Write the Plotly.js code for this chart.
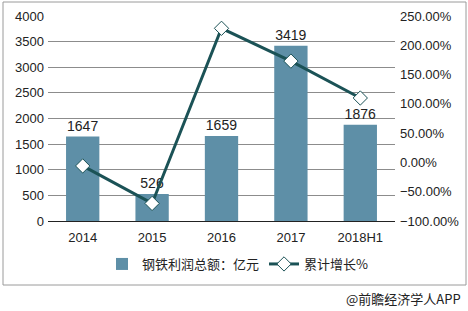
<!DOCTYPE html>
<html>
<head>
<meta charset="utf-8">
<script src="https://cdn.plot.ly/plotly-3.0.1.min.js"></script>
<style>html,body{margin:0;padding:0;background:#fff;}#chart{width:468px;height:311px;}</style>
</head>
<body>
<div id="chart"></div>
<script>
var categories = ['2014', '2015', '2016', '2017', '2018H1'];
var profit = [1647, 526, 1659, 3419, 1876];
var growth = [-0.06, -0.70, 2.29, 1.73, 1.10];
var barName = '钢铁利润总额：亿元';
var lineName = '累计增长%';

var FONT = 'Liberation Sans, Arial, Noto Sans CJK SC, sans-serif';
var L = 48, R = 395, T = 16, B = 221;
function px(x){ return (x - L) / (R - L); }
function py(y){ return (B - y) / (B - T); }

var traces = [
  {
    type: 'bar', x: categories, y: profit, name: barName,
    marker: {color: '#5e8fa7'},
    text: profit.map(String), textposition: 'outside', cliponaxis: false,
    textfont: {size: 14, color: '#222', family: FONT},
    hoverinfo: 'none'
  },
  {
    type: 'scatter', mode: 'lines+markers', x: categories, y: growth, name: lineName,
    yaxis: 'y2',
    line: {color: '#1b5256', width: 3},
    marker: {symbol: 'diamond', size: 11, color: '#ffffff', line: {color: '#1b5256', width: 1}},
    cliponaxis: false,
    hoverinfo: 'none'
  }
];

var layout = {
  width: 468, height: 311,
  margin: {l: L, r: 468 - R, t: T, b: 311 - B},
  paper_bgcolor: '#ffffff', plot_bgcolor: '#ffffff',
  font: {family: FONT, size: 13, color: '#222'},
  bargap: 0.52,
  showlegend: true,
  xaxis: {
    type: 'category', showgrid: false, zeroline: false,
    showline: true, linecolor: '#222', linewidth: 1,
    ticks: '', ticklabelstandoff: 4, tickfont: {size: 13, color: '#222'}
  },
  yaxis: {
    range: [0, 4000], dtick: 500, showgrid: true, gridcolor: '#8c8c8c', gridwidth: 1,
    zeroline: false, showline: false, ticks: '', ticklabelstandoff: 3,
    tickfont: {size: 13, color: '#222'}
  },
  yaxis2: {
    overlaying: 'y', side: 'right', range: [-1, 2.5], dtick: 0.5, tickformat: '.2%',
    showgrid: false, zeroline: false, showline: false, ticks: '', ticklabelstandoff: 4,
    tickfont: {size: 13, color: '#222'}
  },
  legend: {
    orientation: 'h', x: px(102), xanchor: 'left', y: py(264), yanchor: 'middle',
    font: {size: 13, color: '#222', family: 'Noto Sans CJK SC, sans-serif'},
    bgcolor: 'rgba(0,0,0,0)', itemwidth: 30, traceorder: 'normal'
  },
  shapes: [
    {type: 'rect', xref: 'paper', yref: 'paper', x0: px(3), x1: px(466), y0: py(285), y1: py(2),
     line: {color: '#9a9a9a', width: 1}, fillcolor: 'rgba(0,0,0,0)', layer: 'below'}
  ],
  annotations: [
    {text: '@前瞻经济学人APP', xref: 'paper', yref: 'paper', x: px(463), y: py(298),
     xanchor: 'right', yanchor: 'middle', showarrow: false,
     font: {size: 13, color: '#222', family: 'Noto Sans CJK SC, sans-serif'}}
  ]
};

Plotly.newPlot('chart', traces, layout, {displayModeBar: false, staticPlot: true});
</script>
</body>
</html>
